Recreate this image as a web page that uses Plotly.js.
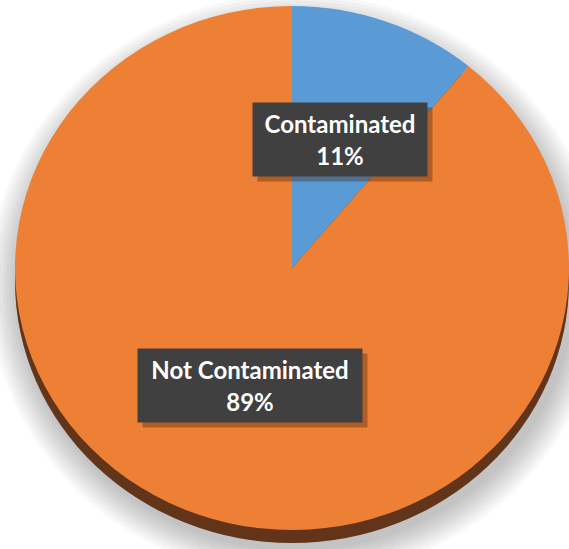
<!DOCTYPE html>
<html>
<head>
<meta charset="utf-8">
<script src="https://cdn.plot.ly/plotly-3.0.1.min.js"></script>
<style>
  html, body { margin: 0; padding: 0; background: #ffffff; }
  #chart { width: 569px; height: 549px; }
</style>
</head>
<body>
<div id="chart"></div>
<script>
// ---- data ----
var categories = ['Contaminated', 'Not Contaminated'];
var percentValues = [11, 89];
var sliceColors = ['#5B9BD5', '#EE8035'];

// ---- layout helpers (pixel -> paper) ----
var W = 569, H = 549;
function px(x) { return x / W; }
function py(y) { return 1 - y / H; }

// pie ellipse geometry (pixels)
var CX = 292, CY = 268, RX = 277, RY = 262;

var shapes = [];
// soft shadow made of stacked translucent ellipses
for (var i = 0; i < 9; i++) {
  var grow = 30 - i * 3.4;
  shapes.push({
    type: 'circle', xref: 'paper', yref: 'paper', layer: 'below',
    x0: px(CX + 4 - RX - grow), x1: px(CX + 4 + RX + grow),
    y0: py(CY + 18 - RY - grow), y1: py(CY + 18 + RY + grow),
    fillcolor: 'rgba(0,0,0,0.026)', line: { width: 0 }
  });
}
// 3D side band of the pie
shapes.push({
  type: 'circle', xref: 'paper', yref: 'paper', layer: 'below',
  x0: px(CX - RX), x1: px(CX + RX),
  y0: py(CY + 13 - RY), y1: py(CY + 13 + RY),
  fillcolor: '#62341A', line: { width: 0 }
});

function labelText(i) {
  return categories[i] + '<br>' + percentValues[i] + '%';
}
var labelFont = { family: 'Lato, "Open Sans", sans-serif', size: 24, color: '#ffffff', weight: 'bold' };
var boxes = [
  { x: 340, y: 139, w: 168, h: 67, i: 0 },
  { x: 250, y: 385.5, w: 218, h: 67, i: 1 }
];
var annotations = [];
boxes.forEach(function (b) {
  annotations.push({
    xref: 'paper', yref: 'paper', x: px(b.x + 5), y: py(b.y + 5),
    xanchor: 'center', yanchor: 'middle', showarrow: false,
    text: ' ', width: b.w, height: b.h, borderpad: 3,
    bgcolor: 'rgba(60,30,10,0.35)', font: labelFont
  });
});
boxes.forEach(function (b) {
  annotations.push({
    xref: 'paper', yref: 'paper', x: px(b.x), y: py(b.y),
    xanchor: 'center', yanchor: 'middle', showarrow: false,
    text: labelText(b.i), width: b.w, height: b.h, borderpad: 3,
    bgcolor: '#404040', font: labelFont, align: 'center'
  });
});

var trace = {
  type: 'pie',
  labels: categories,
  values: percentValues,
  marker: { colors: sliceColors, line: { width: 0 } },
  sort: false,
  direction: 'clockwise',
  rotation: 0,
  textinfo: 'none',
  hoverinfo: 'skip',
  domain: { x: [0, 1], y: [0, 1] }
};

var layout = {
  width: W, height: H,
  margin: { l: 0, r: 0, t: 0, b: 0 },
  paper_bgcolor: '#ffffff',
  showlegend: false,
  shapes: shapes,
  annotations: annotations
};

var gd = document.getElementById('chart');
Plotly.newPlot(gd, [trace], layout, { displayModeBar: false, staticPlot: true }).then(function () {
  // squash the circular pie into the tilted ellipse seen in the reference
  var cd0 = gd.calcdata[0][0];
  var sx = RX / cd0.r, sy = RY / cd0.r;
  var layer = gd.querySelector('.pielayer');
  if (layer) {
    layer.setAttribute('transform',
      'translate(' + CX + ',' + CY + ') scale(' + sx + ',' + sy + ') translate(' + (-cd0.cx) + ',' + (-cd0.cy) + ')');
  }
});
</script>
</body>
</html>
